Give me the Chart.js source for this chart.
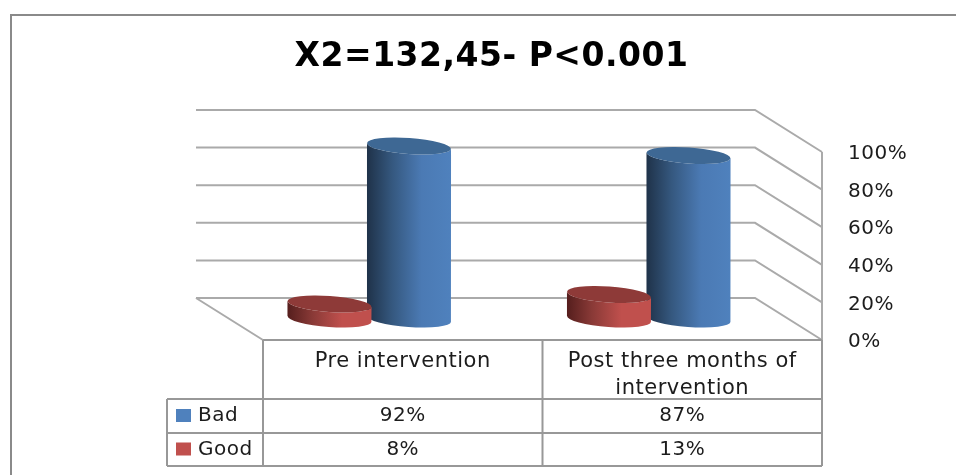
<!DOCTYPE html>
<html>
<head>
<meta charset="utf-8">
<title>Intervention outcome</title>
<script src="https://cdn.jsdelivr.net/npm/chart.js@4/dist/chart.umd.min.js"></script>
<style>
  html, body { margin: 0; padding: 0; background: #fff; }
  canvas { display: block; }
</style>
</head>
<body>
<canvas id="chart" width="956" height="475"></canvas>
<script>
// Values shown in the chart and its data table
const titleText = 'X2=132,45- P<0.001';
const categories = ['Pre intervention', ['Post three months of', 'intervention']];
const badValues = [92, 87];
const goodValues = [8, 13];
const yTicks = [0, 20, 40, 60, 80, 100];

const LABEL_FONT = '"DejaVu Sans", sans-serif';
const GRID_COLOR = '#aaaaaa';
const TABLE_COLOR = '#989898';
const TEXT_COLOR = '#1c1c1c';

// Perspective offset between the front edge of the floor and the back wall
const DEPTH_X = 67;
const DEPTH_Y = 42;

// Colours of each series: body gradient, cap, and legend key
const SHADES = {
  Bad:  { key: '#4f81bd', cap: '#3e6894', stops: ['#1f3249', '#35587f', '#4b7ab4', '#4f81bd'] },
  Good: { key: '#c0504d', cap: '#8e3a38', stops: ['#551e1d', '#8a3a37', '#c0504d', '#c0504d'] }
};

// Bars are rendered as shaded cylinders standing midway along the floor depth
Chart.BarElement.prototype.draw = function (ctx) {
  const shade = SHADES[this.options.borderColor] || SHADES.Bad;
  const rx = this.width / 2;
  const ry = 8;
  const tilt = 4 * Math.PI / 180;
  const cx = this.x - DEPTH_X / 2;
  const topY = this.y - DEPTH_Y / 2;
  const baseY = this.base - DEPTH_Y / 2;
  const lean = rx * Math.sin(tilt);

  const gradient = ctx.createLinearGradient(cx - rx, 0, cx + rx, 0);
  [0, 0.3, 0.65, 1].forEach((at, i) => gradient.addColorStop(at, shade.stops[i]));

  ctx.save();
  ctx.beginPath();
  ctx.moveTo(cx - rx, topY - lean);
  ctx.lineTo(cx - rx, baseY - lean);
  ctx.ellipse(cx, baseY, rx, ry, tilt, Math.PI, 0, true);
  ctx.lineTo(cx + rx, topY + lean);
  ctx.ellipse(cx, topY, rx, ry, tilt, 0, Math.PI, false);
  ctx.closePath();
  ctx.fillStyle = gradient;
  ctx.fill();

  ctx.beginPath();
  ctx.ellipse(cx, topY, rx, ry, tilt, 0, Math.PI * 2);
  ctx.fillStyle = shade.cap;
  ctx.fill();
  ctx.restore();
};

// Outer frame, back wall, side wall and floor
const wallsPlugin = {
  id: 'walls',
  beforeDraw(chart) {
    chart.ctx.letterSpacing = '0.5px';
  },
  beforeDatasetsDraw(chart) {
    const { ctx, scales: { y }, chartArea: area } = chart;
    const backLeft = area.left - DEPTH_X;
    const backRight = area.right - DEPTH_X;
    ctx.save();
    ctx.strokeStyle = '#8a8a8a';
    ctx.lineWidth = 2;
    ctx.beginPath();
    ctx.moveTo(11, chart.height);
    ctx.lineTo(11, 15);
    ctx.lineTo(chart.width, 15);
    ctx.stroke();

    ctx.strokeStyle = GRID_COLOR;
    ctx.lineWidth = 2;
    yTicks.forEach(tick => {
      const py = y.getPixelForValue(tick);
      ctx.beginPath();
      ctx.moveTo(backLeft, py - DEPTH_Y);
      ctx.lineTo(backRight, py - DEPTH_Y);
      ctx.lineTo(area.right, py);
      ctx.stroke();
    });
    const floorY = y.getPixelForValue(0);
    ctx.beginPath();
    ctx.moveTo(backLeft, floorY - DEPTH_Y);
    ctx.lineTo(area.left, floorY);
    ctx.moveTo(area.right, floorY);
    ctx.lineTo(area.right, y.getPixelForValue(100));
    ctx.stroke();
    ctx.restore();
  }
};

// Data table beneath the axis, with a legend key in each row header
const tablePlugin = {
  id: 'dataTable',
  afterDraw(chart) {
    const { ctx, scales: { x }, chartArea: area } = chart;
    const headerLeft = 167;
    const rowLines = [399, 433, 466];
    const mid = (x.getPixelForTick(0) + x.getPixelForTick(1)) / 2;
    const rows = [
      { name: 'Bad', values: badValues, key: SHADES.Bad.key },
      { name: 'Good', values: goodValues, key: SHADES.Good.key }
    ];

    ctx.save();
    ctx.strokeStyle = TABLE_COLOR;
    ctx.lineWidth = 2;
    ctx.beginPath();
    ctx.moveTo(area.left, area.bottom);
    ctx.lineTo(area.right, area.bottom);
    [area.left, mid, area.right].forEach(px => {
      ctx.moveTo(px, area.bottom);
      ctx.lineTo(px, rowLines[2]);
    });
    ctx.moveTo(headerLeft, rowLines[0]);
    ctx.lineTo(headerLeft, rowLines[2]);
    rowLines.forEach(py => {
      ctx.moveTo(headerLeft, py);
      ctx.lineTo(area.right, py);
    });
    ctx.stroke();

    ctx.font = '20px ' + LABEL_FONT;
    ctx.textBaseline = 'middle';
    rows.forEach((row, r) => {
      const cy = (rowLines[r] + rowLines[r + 1]) / 2;
      ctx.fillStyle = row.key;
      ctx.fillRect(headerLeft + 9, cy - 7, 15, 13);
      ctx.fillStyle = TEXT_COLOR;
      ctx.textAlign = 'left';
      ctx.fillText(row.name, headerLeft + 31, cy);
      ctx.textAlign = 'center';
      row.values.forEach((value, c) => {
        ctx.fillText(value + '%', x.getPixelForTick(c), cy);
      });
    });
    ctx.restore();
  }
};

// Keeps the heading centred over the whole drawing instead of the plot column
const titlePlacementPlugin = {
  id: 'titlePlacement',
  afterLayout(chart) {
    chart.titleBlock.left = 27;
    chart.titleBlock.right = chart.width;
  }
};

new Chart(document.getElementById('chart'), {
  type: 'bar',
  data: {
    labels: categories,
    datasets: [
      { label: 'Bad', data: badValues, order: 2, clip: false, backgroundColor: SHADES.Bad.key, borderColor: 'Bad' },
      { label: 'Good', data: goodValues, order: 1, clip: false, backgroundColor: SHADES.Good.key, borderColor: 'Good' }
    ]
  },
  options: {
    responsive: false,
    animation: false,
    devicePixelRatio: 1,
    categoryPercentage: 0.569,
    barPercentage: 1.057,
    layout: { padding: { left: 263, right: 0, top: 0, bottom: 0 } },
    plugins: {
      legend: { display: false },
      tooltip: { enabled: false },
      title: {
        display: true,
        text: titleText,
        color: '#000',
        font: { family: LABEL_FONT, size: 33, weight: 'bold', lineHeight: 1.2 },
        padding: { top: 38, bottom: 74.4 }
      }
    },
    scales: {
      x: {
        grid: { display: false },
        border: { display: false },
        ticks: {
          color: TEXT_COLOR,
          padding: 1,
          maxRotation: 0,
          autoSkip: false,
          font: { family: LABEL_FONT, size: 21, lineHeight: 1.24 }
        },
        afterFit(scale) { scale.height = 135; }
      },
      y: {
        position: 'right',
        min: 0,
        max: 100,
        grid: { display: false, drawTicks: false },
        border: { display: false },
        afterBuildTicks(scale) { scale.ticks = yTicks.map(value => ({ value })); },
        ticks: {
          color: TEXT_COLOR,
          padding: 26,
          labelOffset: 2,
          font: { family: LABEL_FONT, size: 20 },
          callback: value => value + '%'
        },
        afterFit(scale) { scale.width = 134; }
      }
    }
  },
  plugins: [wallsPlugin, tablePlugin, titlePlacementPlugin]
});
</script>
</body>
</html>
